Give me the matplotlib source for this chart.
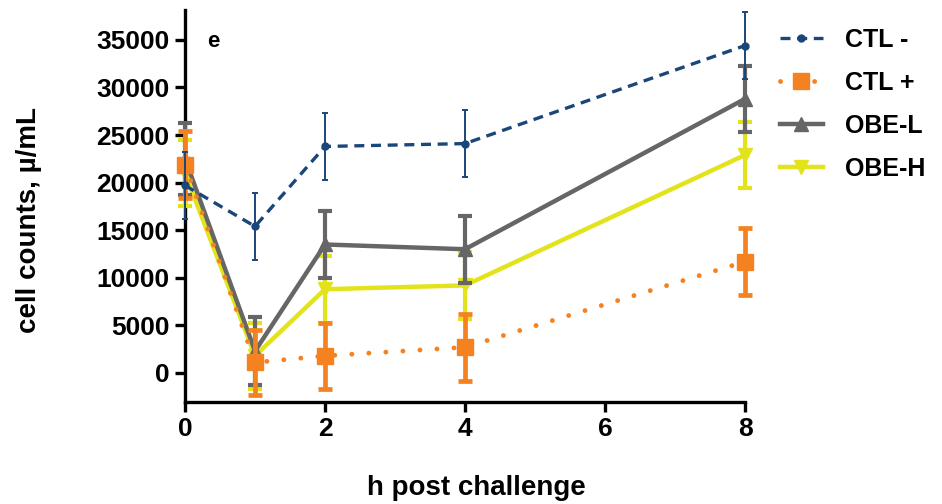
import numpy as np
import matplotlib
matplotlib.use("Agg")
import matplotlib.pyplot as plt

plt.rcParams['font.family'] = ['Liberation Sans', 'DejaVu Sans']
plt.rcParams['font.weight'] = 'bold'

# time points (h) and group means / SEM
hours = [0, 1, 2, 4, 8]
ctl_neg = [19700, 15400, 23800, 24100, 34400]
ctl_neg_err = [3500, 3500, 3500, 3500, 3500]
ctl_pos = [21900, 1100, 1800, 2700, 11700]
ctl_pos_err = [3500, 3400, 3500, 3500, 3500]
obe_l = [22500, 2300, 13500, 13000, 28800]
obe_l_err = [3800, 3600, 3500, 3500, 3500]
obe_h = [21000, 1800, 8800, 9200, 22900]
obe_h_err = [3500, 3500, 3500, 3500, 3500]

navy = '#1b4679'
orange = '#f58220'
gray = '#666666'
yellow = '#e3e31b'

fig = plt.figure(figsize=(9.42, 5.04), dpi=100)
ax = fig.add_axes([0.1964, 0.2024, 0.5945, 0.778])


def draw(y, err, color, ls, lw, marker, ms, elw, cap, z, dash_round=False):
    cont = ax.errorbar(hours, y, yerr=err, color=color, ls=ls, lw=lw,
                       marker=marker, ms=ms, mec=color, mfc=color,
                       elinewidth=elw, capsize=cap, capthick=elw, zorder=z)
    line = cont.lines[0]
    if dash_round:
        line.set_dash_capstyle('round')
    for art in [line, *cont.lines[1], *cont.lines[2]]:
        art.set_clip_on(False)
    return line


h_yel = draw(obe_h, obe_h_err, yellow, '-', 3.2, 'v', 10, 3.0, 5, 3)
h_gray = draw(obe_l, obe_l_err, gray, '-', 3.2, '^', 10, 3.0, 5, 4)
h_org = draw(ctl_pos, ctl_pos_err, orange, (0, (0.01, 3.5)), 3.5, 's', 11,
             3.4, 5, 5, dash_round=True)
h_navy = draw(ctl_neg, ctl_neg_err, navy, (0, (3, 2)), 2.4, 'o', 5, 1.4,
              2.5, 6)

ax.set_xlim(0, 8)
ax.set_ylim(-3050, 38150)
ax.set_xticks([0, 2, 4, 6, 8])
ax.set_yticks(np.arange(0, 35001, 5000))
ax.tick_params(axis='both', width=2.4, length=7, labelsize=19, pad=4)
for lab in ax.get_xticklabels() + ax.get_yticklabels():
    lab.set_fontweight('bold')
for side in ['top', 'right']:
    ax.spines[side].set_visible(False)
for side in ['left', 'bottom']:
    ax.spines[side].set_linewidth(2.4)

ax.set_ylabel('cell counts, µ/mL', fontsize=20, fontweight='bold')
ax.yaxis.set_label_coords(-0.255, 0.465)
ax.set_xlabel('h post challenge', fontsize=20, fontweight='bold',
              labelpad=24)
ax.xaxis.label.set_x(0.521)
ax.text(0.04, 0.92, 'e', transform=ax.transAxes, fontsize=16,
        fontweight='bold', va='center')

fig.legend([h_navy, h_org, h_gray, h_yel],
           ['CTL -', 'CTL +', 'OBE-L', 'OBE-H'],
           loc='upper left', bbox_to_anchor=(0.828, 0.945), frameon=False,
           borderpad=0, borderaxespad=0,
           handlelength=1.72, handletextpad=0.88, labelspacing=0.76,
           prop={'weight': 'bold', 'size': 18})

fig.savefig('out.png', dpi=100, facecolor='white')
